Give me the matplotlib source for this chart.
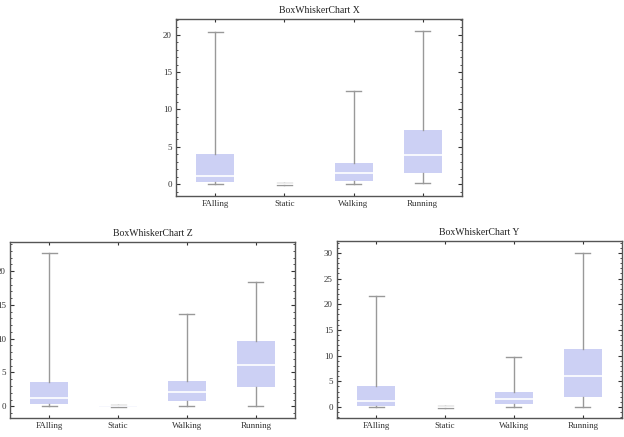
import matplotlib
matplotlib.use("Agg")
import matplotlib.pyplot as plt
from matplotlib.ticker import MultipleLocator, FixedLocator

categories = ["FAlling", "Static", "Walking", "Running"]

# X chart
x_min = [0.0, -0.15, 0.0, 0.09]
x_q1 = [0.27, -0.05, 0.45, 1.48]
x_med = [1.07, 0.0, 1.43, 3.94]
x_q3 = [3.98, 0.05, 2.82, 7.25]
x_max = [20.3, 0.12, 12.48, 20.5]

# Z chart
z_min = [0.0, -0.15, 0.0, 0.0]
z_q1 = [0.34, -0.05, 0.84, 2.9]
z_med = [1.18, 0.0, 2.07, 6.06]
z_q3 = [3.6, 0.05, 3.69, 9.66]
z_max = [22.7, 0.12, 13.65, 18.33]

# Y chart
y_min = [0.0, -0.12, 0.0, 0.07]
y_q1 = [0.26, -0.06, 0.52, 1.95]
y_med = [1.24, 0.0, 1.5, 6.1]
y_q3 = [4.1, 0.06, 2.86, 11.2]
y_max = [21.5, 0.1, 9.76, 30.06]

W, H = 624, 437
fig = plt.figure(figsize=(W / 100, H / 100), dpi=100)
fig.patch.set_facecolor("white")

serif = ["Liberation Serif", "DejaVu Serif"]
box_color = "#ccd0f4"
edge = "#555555"
whisk = "#999999"


def make_axes(left, top, right, bottom):
    return fig.add_axes([left / W, 1 - bottom / H, (right - left) / W, (bottom - top) / H])


def draw(ax, title, mins, q1s, meds, q3s, maxs, ylim, major):
    stats = []
    for lab, a, b, c, d, e in zip(categories, mins, q1s, meds, q3s, maxs):
        stats.append(dict(label=lab, whislo=a, q1=b, med=c, q3=d, whishi=e, fliers=[]))
    pos = list(range(1, len(categories) + 1))
    ax.bxp(stats, positions=pos, widths=0.55, patch_artist=True, showfliers=False,
           boxprops=dict(facecolor=box_color, edgecolor="none", linewidth=0),
           medianprops=dict(color="white", linewidth=1.2),
           whiskerprops=dict(color=whisk, linewidth=1.0),
           capprops=dict(color=whisk, linewidth=1.0), capwidths=0.22)
    ax.set_xlim(0.43, 4.57)
    ax.set_ylim(*ylim)
    ax.yaxis.set_major_locator(MultipleLocator(major))
    ax.yaxis.set_minor_locator(MultipleLocator(1))
    ax.xaxis.set_major_locator(FixedLocator(pos))
    ax.set_xticklabels(categories, fontfamily=serif, fontsize=6.5, color="#333333")
    for lab in ax.get_yticklabels():
        lab.set_fontfamily(serif)
        lab.set_fontsize(6.5)
        lab.set_color("#333333")
    ax.tick_params(axis="both", which="both", direction="in", top=True, right=True,
                   color="#333333", pad=3)
    ax.tick_params(axis="y", which="major", length=3, width=0.8)
    ax.tick_params(axis="y", which="minor", length=1.6, width=0.6)
    ax.tick_params(axis="x", which="major", length=2.5, width=0.8)
    for sp in ax.spines.values():
        sp.set_color(edge)
        sp.set_linewidth(1.0)
    ax.set_title(title, fontfamily=serif, fontsize=7, color="#222222", pad=4)


ax1 = make_axes(176, 19, 462, 196)
draw(ax1, "BoxWhiskerChart X", x_min, x_q1, x_med, x_q3, x_max, (-1.6, 22.1), 5)

ax2 = make_axes(10, 242, 295, 418)
draw(ax2, "BoxWhiskerChart Z", z_min, z_q1, z_med, z_q3, z_max, (-1.73, 24.3), 5)

ax3 = make_axes(337, 241, 622, 418)
draw(ax3, "BoxWhiskerChart Y", y_min, y_q1, y_med, y_q3, y_max, (-2.15, 32.3), 5)

fig.savefig("out.png", dpi=100, facecolor="white")
